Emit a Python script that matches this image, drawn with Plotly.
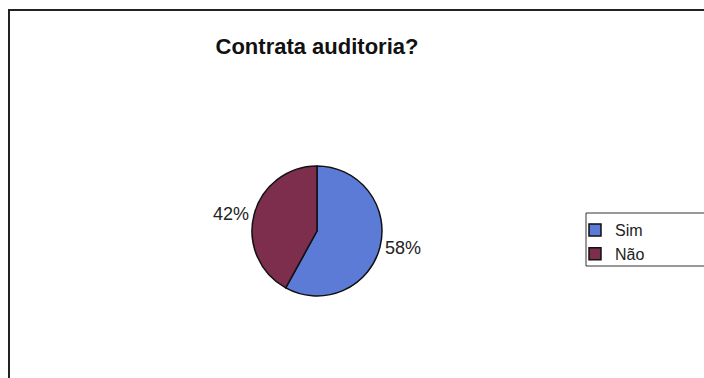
import plotly.graph_objects as go

labels = ["Sim", "Não"]
values = [58, 42]
colors = ["#5b7bd6", "#7c2e4c"]
title = "Contrata auditoria?"

W, H = 704, 378
cx, cy, r = 317, 231, 65
FONT = "Arial, Liberation Sans, sans-serif"

fig = go.Figure(go.Pie(
    labels=labels, values=values, sort=False, direction="clockwise", rotation=0,
    marker=dict(colors=colors, line=dict(color="#111111", width=1.5)),
    textinfo="percent", textposition="outside", texttemplate="%{percent:.0%}",
    textfont=dict(family=FONT, size=18, color="#222222"),
    domain=dict(x=[(cx - r) / W, (cx + r) / W], y=[1 - (cy + r) / H, 1 - (cy - r) / H]),
    showlegend=True,
))

fig.update_layout(
    width=W, height=H, margin=dict(l=0, r=0, t=0, b=0),
    paper_bgcolor="white", plot_bgcolor="white",
    title=dict(text="<b>" + title + "</b>", x=317 / W, xanchor="center", y=1 - 46 / H, yanchor="middle",
               font=dict(family=FONT, size=22, color="#111111")),
    legend=dict(x=575 / W, y=1 - 213 / H, xanchor="left", yanchor="top",
                bgcolor="rgba(0,0,0,0)", borderwidth=0,
                font=dict(family=FONT, size=16, color="#222222")),
    shapes=[
        dict(type="rect", xref="paper", yref="paper", x0=9 / W, x1=1.05, y0=-0.05, y1=1 - 10 / H,
             line=dict(color="#222222", width=2)),
        dict(type="rect", xref="paper", yref="paper", x0=586 / W, x1=1.05, y0=1 - 266 / H, y1=1 - 213 / H,
             line=dict(color="#333333", width=1)),
    ],
)
fig.write_html("out.html")
